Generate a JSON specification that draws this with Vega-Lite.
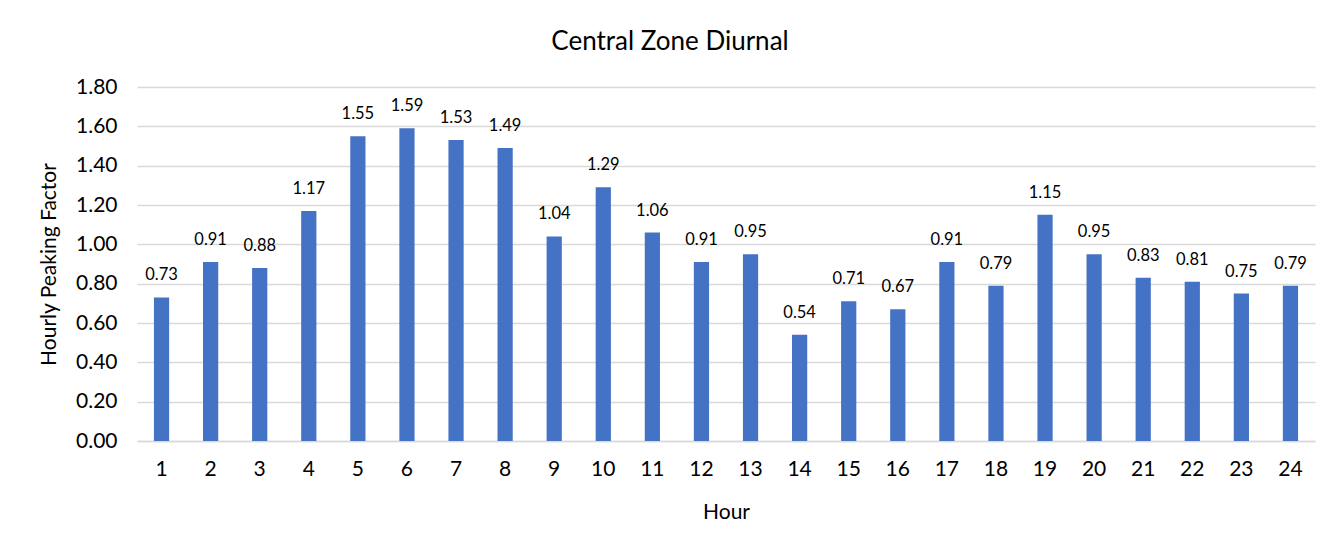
{
  "$schema": "https://vega.github.io/schema/vega-lite/v6.json",
  "autosize": "none",
  "width": 1178,
  "height": 354,
  "padding": {"left": 137, "top": 87, "right": 23, "bottom": 110},
  "background": "white",
  "title": {
    "text": "Central Zone Diurnal",
    "font": "Lato",
    "fontSize": 26,
    "fontWeight": "normal",
    "color": "#000000",
    "anchor": "middle",
    "dx": -56,
    "offset": 21
  },
  "data": {
    "values": [
      {"hour": 1, "v": 0.73}, {"hour": 2, "v": 0.91}, {"hour": 3, "v": 0.88},
      {"hour": 4, "v": 1.17}, {"hour": 5, "v": 1.55}, {"hour": 6, "v": 1.59},
      {"hour": 7, "v": 1.53}, {"hour": 8, "v": 1.49}, {"hour": 9, "v": 1.04},
      {"hour": 10, "v": 1.29}, {"hour": 11, "v": 1.06}, {"hour": 12, "v": 0.91},
      {"hour": 13, "v": 0.95}, {"hour": 14, "v": 0.54}, {"hour": 15, "v": 0.71},
      {"hour": 16, "v": 0.67}, {"hour": 17, "v": 0.91}, {"hour": 18, "v": 0.79},
      {"hour": 19, "v": 1.15}, {"hour": 20, "v": 0.95}, {"hour": 21, "v": 0.83},
      {"hour": 22, "v": 0.81}, {"hour": 23, "v": 0.75}, {"hour": 24, "v": 0.79}
    ]
  },
  "encoding": {
    "x": {
      "field": "hour",
      "type": "ordinal",
      "title": "Hour",
      "scale": {"paddingInner": 0.69, "paddingOuter": 0.345},
      "axis": {
        "labelAngle": 0,
        "labelFont": "Lato",
        "labelFontSize": 21,
        "labelColor": "#000000",
        "labelPadding": 17,
        "ticks": false,
        "domainColor": "#d9d9d9",
        "domainWidth": 1.5,
        "titleFont": "Lato",
        "titleFontSize": 21,
        "titleFontWeight": "normal",
        "titleColor": "#000000",
        "titlePadding": 22
      }
    },
    "y": {
      "field": "v",
      "type": "quantitative",
      "title": "Hourly Peaking Factor",
      "scale": {"domain": [0, 1.8], "nice": false},
      "axis": {
        "values": [0, 0.2, 0.4, 0.6, 0.8, 1.0, 1.2, 1.4, 1.6, 1.8],
        "format": ".2f",
        "labelFont": "Lato",
        "labelFontSize": 21,
        "labelColor": "#000000",
        "labelPadding": 20,
        "ticks": false,
        "domain": false,
        "gridColor": "#d9d9d9",
        "gridWidth": 1.5,
        "titleFont": "Lato",
        "titleFontSize": 21,
        "titleFontWeight": "normal",
        "titleColor": "#000000",
        "titlePadding": 16
      }
    }
  },
  "layer": [
    {"mark": {"type": "bar", "color": "#4472C4"}},
    {
      "mark": {"type": "text", "dy": -22, "font": "Lato", "fontSize": 16.5, "color": "#000000"},
      "encoding": {"text": {"field": "v", "type": "quantitative", "format": ".2f"}}
    }
  ],
  "config": {"view": {"stroke": null}}
}
